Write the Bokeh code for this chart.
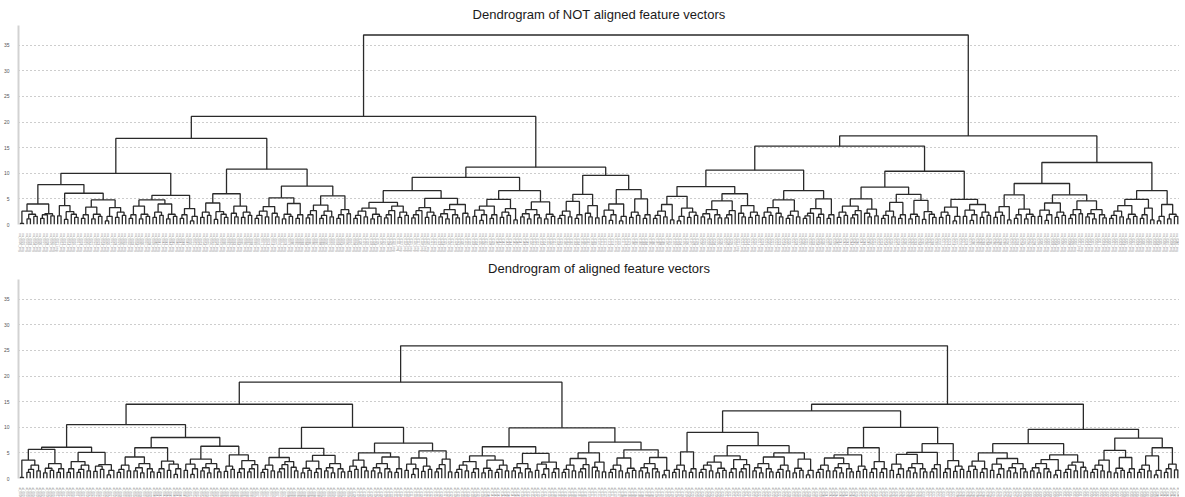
import math
from bokeh.plotting import figure
from bokeh.layouts import column
from bokeh.models import FixedTicker, Range1d
from bokeh.embed import file_html
from bokeh.resources import INLINE

# ---------------- data ----------------
TITLES = ["Dendrogram of NOT aligned feature vectors",
          "Dendrogram of aligned feature vectors"]
Y_TICKS = [0, 5, 10, 15, 20, 25, 30, 35]

# small leaf groups, Newick-like: "(left,right)height", "." = leaf
FRAG = {
    "e2": "(.,.)0.2",
    "a2": "(.,.)1.3",
    "b2": "(.,.)1.7",
    "c2": "(.,.)0.9",
    "d2": "(.,.)2.1",
    "a3": "((.,.)1.2,.)1.9",
    "b3": "(.,(.,.)1.5)2.2",
    "c3": "((.,.)0.7,.)1.6",
    "a4": "((.,.)1.4,(.,.)1.8)2.4",
    "b4": "((.,.)1.1,(.,.)1.6)2.0",
    "c4": "(((.,.)1.3,.)1.9,.)2.7",
    "a5": "(((.,.)1.2,.)1.8,(.,.)1.5)2.6",
    "b5": "((.,.)1.6,((.,.)0.8,.)1.9)2.8",
    "c5": "((.,.)1.0,(.,(.,.)1.4)2.0)2.5",
    "a6": "(((.,.)1.5,(.,.)1.1)2.1,(.,(.,.)1.3)1.9)2.9",
    "b6": "((((.,.)1.2,.)1.7,.)2.2,((.,.)1.4,.)2.0)3.1",
}

# ---- top chart: NOT aligned (height, left, right) ----
X37 = (4.0, (2.6, "e2", "b4"), (2.1, "a3", "b2"))
X86 = (6.1, (3.7, "b2", "c5"), (4.8, (3.4, "a3", "b4"), (3.3, "c3", "a4")))
X174 = (5.7, (4.8, (3.6, "a3", "b4"), (4.0, "a4", "b4")), (3.1, "a3", "c3"))
X233 = (6.0, (4.2, "a4", "c5"), (3.6, "b3", "a4"))
X309 = (7.5, (5.2, (3.5, "a5", "b3"), (4.1, "b4", "a3")), (5.6, (3.8, "c4", "a5"), (2.9, "a3", "d2")))
X412 = (6.6, (4.3, (3.2, "a5", "b4"), (3.6, "c4", "a4")), (5.1, (3.3, "c4", "a4"), (3.9, "a6", "b3")))
X506 = (6.6, (4.9, (3.6, "b5", "a3"), (3.1, "a4", "c2")), (4.4, "a6", "b4"))
X568 = (5.9, (4.5, "a5", "a3"), (3.7, "b3", "a2"))
X630 = (6.8, (4.0, "b5", "c3"), (5.0, "a4", "a3"))
X670 = (5.5, (3.9, "a5", "c2"), (3.2, "c3", "a4"))
X735 = (6.0, (4.6, "a6", "c4"), (3.7, "b3", "a4"))
X795 = (6.6, (4.8, (3.3, "a4", "b3"), "a5"), (5.0, "b6", "a3"))
X848 = (5.0, (3.6, "a4", "c4"), (3.0, "b3", "b2"))
X912 = (5.9, (4.3, "a5", "a3"), (4.7, "b4", "c5"))
X967 = (4.9, (3.4, "a4", "c3"), (3.9, "b5", "a4"))
X1017 = (5.8, (3.5, "a4", "c2"), (3.0, "a3", "b4"))
X1083 = (5.8, (4.2, "b5", "a4"), (4.6, (2.9, "a3", "d2"), "a6"))
X1148 = (4.9, (3.7, "a5", "b4"), (3.2, "a3", "c2"))
X1177 = (3.9, "c3", "b4")

TOP_TREE = (37.0,
            (21.1,
             (16.8, (10.0, (7.8, X37, X86), X174), (10.8, X233, X309)),
             (11.2, (9.2, X412, X506), (9.6, X568, X630))),
            (17.3,
             (15.3, (10.6, (7.4, X670, X735), X795), (10.4, (7.3, X848, X912), X967)),
             (12.1, (8.0, X1017, X1083), (6.6, X1148, X1177))))

# ---- bottom chart: aligned ----
Y42 = (5.7, (3.6, "e2", "a5"), (2.9, "b4", "a3"))
Y92 = (5.1, (3.3, "a3", "a5"), (2.7, "a4", "c3"))
Y140 = (6.0, (4.2, "a5", "a6"), (3.4, "a3", "b5"))
Y211 = (6.3, (3.8, "b5", "a6"), (4.6, "a4", (3.5, "a3", "c4")))
Y291 = (5.9, (4.1, "a5", (3.3, "c4", "b3")), (4.5, (3.4, "b4", "a3"), "a6"))
Y411 = (6.9, (5.0, (3.6, "a4", "b3"), (4.2, "a6", "a3")), (5.4, (4.0, "b5", "a4"), (3.8, "c4", "a2")))
Y473 = (6.2, (4.4, (3.3, "a5", "a3"), (3.6, "b4", "a5")), (4.9, "a6", (3.2, "b5", "a3")))
Y600 = (7.1, (5.0, (3.9, "a5", "c4"), (3.2, "b3", "a2")), (5.6, (4.0, "a5", "b4"), (4.1, "a6", "c3")))
Y712 = (9.0, (5.2, "a5", "a3"),
        (6.4, (4.4, (3.2, "a5", "b4"), (3.7, "a3", "c4")), (5.0, (4.2, "a6", "a5"), (3.8, "b4", "c3"))))
Y850 = (6.0, (4.6, (4.0, "a5", "a6"), "a4"), (3.3, "a3", "a3"))
Y945 = (6.8, (5.1, (4.7, "b5", "a6"), "c4"), (3.5, "a3", "a4"))
Y1032 = (6.8, (5.0, (3.4, "a4", "a3"), (3.9, "b5", "a6")), (4.6, (3.7, "a6", "c3"), (3.2, "a5", "b3")))
Y1141 = (7.9, (5.5, (3.6, "a5", "a2"), (4.1, "b4", "a3")), (6.0, (4.4, "a5", "c3"), (2.8, "a3", "b2")))

BOTTOM_TREE = (25.9,
               (18.8,
                (14.5, (10.5, (6.1, Y42, Y92), (8.0, Y140, Y211)), (10.0, Y291, Y411)),
                (9.9, Y473, Y600)),
               (14.5,
                (13.2, Y712, (10.0, Y850, Y945)),
                (9.6, Y1032, Y1141)))

# ---------------- helpers ----------------
def parse_newick(s):
    pos = 0

    def node():
        nonlocal pos
        if s[pos] == ".":
            pos += 1
            return None
        pos += 1  # '('
        left = node()
        pos += 1  # ','
        right = node()
        pos += 1  # ')'
        start = pos
        while pos < len(s) and (s[pos].isdigit() or s[pos] == "."):
            pos += 1
        return (float(s[start:pos]), left, right)

    return node()


def expand(t):
    if isinstance(t, str):
        return parse_newick(FRAG[t])
    h, l, r = t
    return (h, expand(l), expand(r))


def build(tree):
    xs, ys = [], []
    count = [0]

    def walk(n):
        if n is None:
            x = 5 + 10 * count[0]
            count[0] += 1
            return x, 0.0
        h, l, r = n
        xl, hl = walk(l)
        xr, hr = walk(r)
        xs.append([xl, xl, xr, xr])
        ys.append([hl, h, h, hr])
        return (xl + xr) / 2.0, h

    walk(tree)
    return xs, ys, count[0]


def make(title, tree, prefix, top_border):
    xs, ys, n = build(expand(tree))
    p = figure(frame_width=1161, frame_height=199,
               x_range=Range1d(0, 10 * n), y_range=Range1d(0, 38.85),
               title=title, output_backend="svg", toolbar_location=None,
               min_border=0, min_border_top=top_border)
    p.title.align = "center"
    p.title.text_font = "Liberation Sans"
    p.title.text_font_size = "13px"
    p.title.text_font_style = "normal"
    p.title.text_color = "#1a1a1a"
    p.title.standoff = 8
    p.outline_line_color = None
    p.background_fill_color = "white"

    p.multi_line(xs, ys, line_color="#2a2a2a", line_width=1.3)

    p.xgrid.visible = False
    p.ygrid.ticker = FixedTicker(ticks=Y_TICKS)
    p.ygrid.grid_line_color = "#9a9a9a"
    p.ygrid.grid_line_dash = "1 3"
    p.ygrid.grid_line_width = 1

    ya = p.yaxis[0]
    ya.ticker = FixedTicker(ticks=Y_TICKS)
    ya.axis_line_color = "#d2d2d2"
    ya.axis_line_width = 2
    ya.major_tick_line_color = None
    ya.minor_tick_line_color = None
    ya.major_label_text_font = "Liberation Sans"
    ya.major_label_text_font_size = "5px"
    ya.major_label_text_color = "#555555"
    ya.major_label_standoff = 3

    ticks = [5 + 10 * i for i in range(n)]
    labels = {t: f"{prefix}_{i:04d}_img" for i, t in enumerate(ticks)}
    xa = p.xaxis[0]
    xa.ticker = FixedTicker(ticks=ticks)
    xa.major_label_overrides = labels
    xa.major_label_orientation = "vertical"
    xa.axis_line_color = None
    xa.major_tick_line_color = None
    xa.minor_tick_line_color = None
    xa.major_label_text_font = "Liberation Sans"
    xa.major_label_text_font_size = "3px"
    xa.major_label_text_color = "#8a8a8a"
    xa.major_label_standoff = 3
    return p


p1 = make(TITLES[0], TOP_TREE, "na", 0)
p2 = make(TITLES[1], BOTTOM_TREE, "al", 5)
layout = column(p1, p2, spacing=0)

open("out.html", "w").write(file_html(layout, INLINE))
